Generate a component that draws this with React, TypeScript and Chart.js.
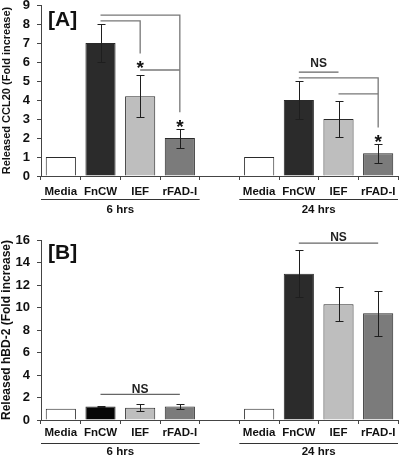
import React, { useEffect, useRef } from 'react';
import { Chart, registerables } from 'chart.js';

Chart.register(...registerables);

// ---------- data ----------
const treatments = ['Media', 'FnCW', 'IEF', 'rFAD-I'];
const timepoints = ['6 hrs', '24 hrs'];

const ccl20Mean6h = [1, 7.0, 4.2, 2.0];
const ccl20Err6h = [0, 1.0, 1.1, 0.5];
const ccl20Mean24h = [1, 4.0, 3.0, 1.2];
const ccl20Err24h = [0, 1.0, 0.95, 0.5];

const hbd2Mean6h = [1, 1.2, 1.1, 1.2];
const hbd2Err6h = [0, 0.05, 0.3, 0.2];
const hbd2Mean24h = [1, 13.0, 10.3, 9.5];
const hbd2Err24h = [0, 2.1, 1.5, 2.0];

const barColors6h = ['#ffffff', '#2b2b2b', '#bebebe', '#7b7b7b'];
const barColors24h = ['#ffffff', '#2b2b2b', '#bebebe', '#7b7b7b'];
const hbd2Colors6h = ['#ffffff', '#070707', '#bebebe', '#7b7b7b'];

// significance annotations (category index, value units)
const ccl20Brackets = [
  { from: 1, to: 2, y: 8.16, drop: 6.45 },
  { from: 1, to: 3, y: 8.47, drop: 3.35 },
  { from: 2, to: 3, y: 5.58, drop: null },
  { from: 6, to: 8, y: 5.16, drop: 2.55 },
  { from: 7, to: 8, y: 4.32, drop: null },
];
const ccl20Stars = [
  { at: 2, y: 5.95 },
  { at: 3, y: 2.84 },
  { at: 8, y: 2.05 },
];
const ccl20NS = [{ from: 6, to: 7, y: 5.47, label: 5.9 }];

const hbd2Brackets: any[] = [];
const hbd2Stars: any[] = [];
const hbd2NS = [
  { from: 1, to: 3, y: 2.27, label: 2.72 },
  { from: 6, to: 8, y: 15.73, label: 16.2 },
];

const FONT = '"Liberation Sans", Arial, sans-serif';

function joinLabels() {
  return [...treatments, '', ...treatments];
}
function join(a: any[], b: any[]) {
  return [...a, null, ...b];
}

type PanelSpec = {
  tag: string;
  yTitle: string;
  yTitleSize: number;
  max: number;
  step: number;
  means: (number | null)[];
  errs: (number | null)[];
  colors: (string | null)[];
  brackets: any[];
  stars: any[];
  ns: any[];
  padTop: number;
  xHeight: number;
  xPad: number;
  tagY: number;
  groupLineOffset: number;
  groupTextOffset: number;
  height: number;
};

function makeChart(canvas: HTMLCanvasElement, p: PanelSpec) {
  const plugin = {
    id: 'panelDecor',
    afterDatasetsDraw(chart: any) {
      const ctx = chart.ctx;
      const xs = chart.scales.x;
      const ys = chart.scales.y;
      ctx.save();
      ctx.strokeStyle = '#1e1e1e';
      ctx.lineWidth = 1;
      p.means.forEach((m, i) => {
        const e = p.errs[i];
        if (m == null || !e) return;
        const x = Math.round(xs.getPixelForValue(i)) + 0.5;
        const yt = Math.round(ys.getPixelForValue(m + e)) + 0.5;
        const yb = Math.round(ys.getPixelForValue(m - e)) + 0.5;
        ctx.beginPath();
        ctx.moveTo(x, yt);
        ctx.lineTo(x, yb);
        ctx.moveTo(x - 4, yt);
        ctx.lineTo(x + 4, yt);
        ctx.moveTo(x - 4, yb);
        ctx.lineTo(x + 4, yb);
        ctx.stroke();
      });
      ctx.restore();
    },
    afterDraw(chart: any) {
      const ctx = chart.ctx;
      const xs = chart.scales.x;
      const ys = chart.scales.y;
      const area = chart.chartArea;
      const step = xs.getPixelForValue(1) - xs.getPixelForValue(0);
      ctx.save();

      // y-axis title
      ctx.save();
      ctx.translate(7, (area.top + area.bottom) / 2);
      ctx.rotate(-Math.PI / 2);
      ctx.font = `bold ${p.yTitleSize}px ${FONT}`;
      ctx.fillStyle = '#111';
      ctx.textAlign = 'center';
      ctx.textBaseline = 'middle';
      ctx.fillText(p.yTitle, 0, 0);
      ctx.restore();

      // panel tag
      ctx.font = `bold 21px ${FONT}`;
      ctx.fillStyle = '#111';
      ctx.textAlign = 'left';
      ctx.textBaseline = 'middle';
      ctx.fillText(p.tag, 48, p.tagY);

      // group lines + labels
      const groups = [
        { first: 0, last: 3, label: timepoints[0] },
        { first: 5, last: 8, label: timepoints[1] },
      ];
      ctx.strokeStyle = '#333';
      ctx.lineWidth = 1;
      ctx.font = `bold 11.5px ${FONT}`;
      ctx.textAlign = 'center';
      groups.forEach((g) => {
        const x0 = xs.getPixelForValue(g.first) - step / 2;
        const x1 = Math.min(xs.getPixelForValue(g.last) + step / 2, chart.width);
        const ly = Math.round(area.bottom + p.groupLineOffset) + 0.5;
        ctx.beginPath();
        ctx.moveTo(x0, ly);
        ctx.lineTo(x1, ly);
        ctx.stroke();
        ctx.fillText(g.label, (x0 + x1) / 2, area.bottom + p.groupTextOffset);
      });

      // brackets
      ctx.strokeStyle = '#777';
      ctx.lineWidth = 1.3;
      p.brackets.forEach((b) => {
        const x0 = xs.getPixelForValue(b.from);
        const x1 = xs.getPixelForValue(b.to);
        const y = ys.getPixelForValue(b.y);
        ctx.beginPath();
        ctx.moveTo(x0, y);
        ctx.lineTo(x1, y);
        if (b.drop != null) ctx.lineTo(x1, ys.getPixelForValue(b.drop));
        ctx.stroke();
      });

      // NS
      p.ns.forEach((n) => {
        const x0 = xs.getPixelForValue(n.from);
        const x1 = xs.getPixelForValue(n.to);
        const y = ys.getPixelForValue(n.y);
        ctx.strokeStyle = '#666';
        ctx.lineWidth = 1.3;
        ctx.beginPath();
        ctx.moveTo(x0, y);
        ctx.lineTo(x1, y);
        ctx.stroke();
        ctx.font = `bold 12px ${FONT}`;
        ctx.fillStyle = '#222';
        ctx.textAlign = 'center';
        ctx.textBaseline = 'middle';
        ctx.fillText('NS', (x0 + x1) / 2, ys.getPixelForValue(n.label));
      });

      // stars
      const sz = 19;
      ctx.font = `bold ${sz}px ${FONT}`;
      ctx.fillStyle = '#111';
      ctx.textAlign = 'center';
      ctx.textBaseline = 'alphabetic';
      p.stars.forEach((s) => {
        const x = xs.getPixelForValue(s.at);
        const y = ys.getPixelForValue(s.y);
        ctx.fillText('*', x, y + 0.58 * sz);
      });

      ctx.restore();
    },
  };

  return new Chart(canvas, {
    type: 'bar',
    data: {
      labels: joinLabels(),
      datasets: [
        {
          data: p.means as any,
          backgroundColor: p.colors as any,
          borderColor: '#2a2a2a',
          borderWidth: 1,
          barPercentage: 0.76,
          categoryPercentage: 1,
        },
      ],
    },
    options: {
      responsive: false,
      animation: false,
      devicePixelRatio: 1,
      layout: { padding: { top: p.padTop, right: 2, left: 0, bottom: 0 } },
      plugins: {
        legend: { display: false },
        tooltip: { enabled: false },
      },
      scales: {
        x: {
          grid: {
            display: true,
            drawOnChartArea: false,
            drawTicks: true,
            tickLength: 4,
            color: '#444',
            offset: true,
          },
          border: { display: true, color: '#444', width: 1 },
          ticks: {
            font: { family: FONT, size: 11.5, weight: 'bold' },
            color: '#111',
            padding: p.xPad,
            autoSkip: false,
            maxRotation: 0,
          },
          afterFit: (s: any) => {
            s.height = p.xHeight;
            s.paddingLeft = 0;
            s.paddingRight = 0;
          },
        },
        y: {
          min: 0,
          max: p.max,
          ticks: {
            stepSize: p.step,
            font: { family: FONT, size: 13, weight: 'bold' },
            color: '#111',
            padding: 7,
          },
          grid: { drawOnChartArea: false, tickLength: 4, color: '#444' },
          border: { display: true, color: '#444', width: 1 },
          afterFit: (s: any) => {
            s.width = 41;
            s.paddingTop = 0;
            s.paddingBottom = 0;
          },
        },
      },
    } as any,
    plugins: [plugin],
  });
}

const panelA: PanelSpec = {
  tag: '[A]',
  yTitle: 'Released CCL20 (Fold increase)',
  yTitleSize: 11,
  max: 9,
  step: 1,
  means: join(ccl20Mean6h, ccl20Mean24h),
  errs: join(ccl20Err6h, ccl20Err24h),
  colors: join(barColors6h, barColors24h),
  brackets: ccl20Brackets,
  stars: ccl20Stars,
  ns: ccl20NS,
  padTop: 5,
  xHeight: 52,
  xPad: 5,
  tagY: 20,
  groupLineOffset: 23,
  groupTextOffset: 34,
  height: 228,
};

const panelB: PanelSpec = {
  tag: '[B]',
  yTitle: 'Released hBD-2 (Fold increase)',
  yTitleSize: 12,
  max: 16,
  step: 2,
  means: join(hbd2Mean6h, hbd2Mean24h),
  errs: join(hbd2Err6h, hbd2Err24h),
  colors: join(hbd2Colors6h, barColors24h),
  brackets: hbd2Brackets,
  stars: hbd2Stars,
  ns: hbd2NS,
  padTop: 12,
  xHeight: 38,
  xPad: 2,
  tagY: 25,
  groupLineOffset: 23,
  groupTextOffset: 32,
  height: 230,
};

function Panel({ spec, top }: { spec: PanelSpec; top: number }) {
  const ref = useRef<HTMLCanvasElement | null>(null);
  useEffect(() => {
    if (!ref.current) return;
    const chart = makeChart(ref.current, spec);
    return () => chart.destroy();
  }, [spec]);
  return (
    <canvas
      ref={ref}
      width={400}
      height={spec.height}
      style={{ position: 'absolute', left: 0, top, width: 400, height: spec.height, display: 'block' }}
    />
  );
}

export default function App() {
  return (
    <div
      style={{
        position: 'absolute',
        left: 0,
        top: 0,
        width: 400,
        height: 458,
        background: '#ffffff',
        overflow: 'hidden',
      }}
    >
      <Panel spec={panelA} top={0} />
      <Panel spec={panelB} top={228} />
    </div>
  );
}
